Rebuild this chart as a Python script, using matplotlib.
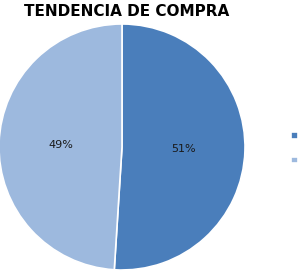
import matplotlib.pyplot as plt

# data
categories = ['SI', 'NO']
values = [51, 49]
colors = ['#4A7EBB', '#9DB9DE']

fig = plt.figure(figsize=(3.01, 2.80), dpi=100)
ax = fig.add_axes([-1 / 301, 10 / 280, 246 / 301, 246 / 280])

wedges, texts, autotexts = ax.pie(values, colors=colors, startangle=90, counterclock=False,
                                  autopct='%1.0f%%', pctdistance=0.5,
                                  wedgeprops=dict(edgecolor='white', linewidth=1.2),
                                  textprops=dict(fontsize=8, color='#1a1a1a'))
ax.set_aspect('equal')
ax.set_xlim(-1.0, 1.0)
ax.set_ylim(-1.0, 1.0)

fig.text(127 / 301, 1 - 12 / 280, 'TENDENCIA DE COMPRA', ha='center', va='center',
         fontsize=11, fontweight='bold', family='DejaVu Sans')

leg = fig.legend(wedges, categories, loc='upper left', bbox_to_anchor=(286 / 301, 1 - 126 / 280),
                 frameon=False, fontsize=7, handlelength=0.7, handleheight=0.7,
                 handletextpad=0.6, labelspacing=1.5, borderpad=0)

fig.savefig('out.png', dpi=100)
